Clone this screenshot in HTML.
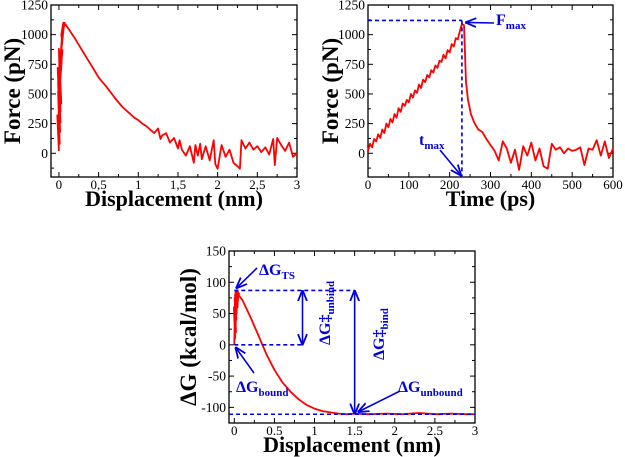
<!DOCTYPE html>
<html><head><meta charset="utf-8"><style>
body{margin:0;background:#fff;}
svg{display:block;font-family:"Liberation Serif",serif;}
</style></head><body>
<svg id="fig" width="625" height="457" viewBox="0 0 625 457" xmlns="http://www.w3.org/2000/svg">
<defs>
<marker id="ah" viewBox="0 0 10 10" refX="9" refY="5" markerWidth="7" markerHeight="7" orient="auto-start-reverse"><path d="M0,1 L10,5 L0,9" fill="none" stroke="#0000e0" stroke-width="1.6"/></marker>
</defs>
</svg>
<script>
// Panel A: force vs displacement
const aX=[0,-0.02,0.01,-0.01,0.02,-0.015,0.015,-0.01,0.03,0,0.02,-0.005,0.035,0.005,0.04,0.01,0.045,0.015,0.05,0.02,0.04,0.03,0.055,0.035,0.06,0.045,0.07,0.05,0.08,0.1,0.2,0.3,0.4,0.5,0.6,0.7,0.8,0.85,0.9,0.95,1.0,1.05,1.1,1.15,1.2,1.25,1.28,1.3,1.35,1.4,1.45,1.5,1.52,1.55,1.6,1.65,1.7,1.72,1.75,1.78,1.8,1.85,1.9,1.95,1.97,2.0,2.05,2.1,2.15,2.2,2.25,2.28,2.3,2.35,2.4,2.45,2.5,2.55,2.6,2.65,2.7,2.72,2.75,2.8,2.85,2.9,2.95,3.0];
const aY=[20,320,80,520,260,720,180,600,420,880,350,650,780,500,980,620,870,700,1080,820,950,1000,1100,900,1060,1010,1100,1050,1090,1070,970,860,750,640,560,470,390,360,330,300,280,250,230,200,170,210,120,150,170,90,130,40,110,30,-20,60,-80,70,-20,80,-50,60,-60,110,-90,-130,70,-30,30,-80,-110,-130,110,40,90,30,60,10,50,-10,120,-100,130,70,20,90,-30,0];
// Panel B: force vs time
const bX=[0,5,10,15,20,25,30,35,40,45,50,55,60,65,70,75,80,85,90,95,100,105,110,115,120,125,130,135,140,145,150,155,160,165,170,175,180,185,190,195,200,205,210,215,220,225,230,235,240,245,252,260,270,280,290,300,310,320,330,340,350,360,370,380,390,400,410,420,430,440,450,460,470,480,490,500,510,520,530,540,550,560,570,580,590,600];
const bY=[20,80,50,120,100,160,130,200,170,250,220,290,260,330,300,380,350,420,400,450,430,500,470,530,510,580,550,620,600,660,640,700,680,740,720,780,770,830,800,870,850,920,900,970,960,1030,1090,1080,600,450,330,260,200,180,120,70,20,-60,100,40,-80,30,-140,60,-20,90,-60,40,-110,-130,80,30,50,0,40,20,30,50,-100,40,30,110,-20,100,-40,40];
// Panel C: free energy
const cX=[0,0.005,0.01,-0.005,0.015,0.005,0.02,0.01,0.03,0.015,0.025,0.02,0.04,0.03,0.035,0.025,0.05,0.04,0.045,0.035,0.06,0.05,0.1,0.2,0.3,0.4,0.5,0.6,0.7,0.8,0.9,1.0,1.1,1.2,1.3,1.4,1.5,1.7,1.9,2.1,2.3,2.5,2.7,2.9,3.0];
const cY=[0,40,10,60,30,75,20,80,50,85,40,70,83,55,86,65,82,60,86,70,82,80,72,45,15,-15,-40,-60,-75,-87,-96,-102,-106,-108,-110,-111,-110,-111,-110,-111,-109,-111,-110,-111,-111];
const aXT=[0,0.5,1,1.5,2,2.5,3], aXL=["0","0,5","1","1,5","2","2,5","3"];
const fYT=[0,250,500,750,1000,1250];
const bXT=[0,100,200,300,400,500,600];
const cXT=[0,0.5,1,1.5,2,2.5,3], cXL=["0","0.5","1","1.5","2","2.5","3"];
const cYT=[-100,-50,0,50,100,150];

const NS="http://www.w3.org/2000/svg", svg=document.getElementById('fig');
function mk(t,a,p){const e=document.createElementNS(NS,t);for(const k in a)e.setAttribute(k,a[k]);(p||svg).appendChild(e);return e;}
function panel(o){
  const g=mk('g',{});
  
  
  const sx=v=>o.L+(v-o.x0)/(o.x1-o.x0)*(o.R-o.L);
  const sy=v=>o.B-(v-o.y0)/(o.y1-o.y0)*(o.B-o.T);
  o.sx=sx;o.sy=sy;
  const fr=mk('rect',{x:o.L,y:o.T,width:o.R-o.L,height:o.B-o.T,fill:'none',stroke:'#000','stroke-width':1.3},g);
  
  
  o.xt.forEach((v,i)=>{const x=sx(v);
    mk('line',{x1:x,x2:x,y1:o.B,y2:o.B-5,stroke:'#000'},g);
    mk('line',{x1:x,x2:x,y1:o.T,y2:o.T+5,stroke:'#000'},g);
    if(i<o.xt.length-1){const xm=sx((v+o.xt[i+1])/2);mk('line',{x1:xm,x2:xm,y1:o.B,y2:o.B-3,stroke:'#000'},g);mk('line',{x1:xm,x2:xm,y1:o.T,y2:o.T+3,stroke:'#000'},g);}
    const t=mk('text',{x:x,y:o.B+12,'text-anchor':'middle','font-size':13},g);t.textContent=o.xl[i];
    
    });
  o.yt.forEach((v,i)=>{const y=sy(v);
    mk('line',{x1:o.L,x2:o.L+5,y1:y,y2:y,stroke:'#000'},g);
    mk('line',{x1:o.R,x2:o.R-5,y1:y,y2:y,stroke:'#000'},g);
    const step=(o.yt[1]-o.yt[0])/2;[v-step].forEach(m=>{if(m>o.y0){const ym=sy(m);mk('line',{x1:o.L,x2:o.L+3,y1:ym,y2:ym,stroke:'#000'},g);mk('line',{x1:o.R,x2:o.R-3,y1:ym,y2:ym,stroke:'#000'},g);}});
    const t=mk('text',{x:o.L-3,y:y+4.5,'text-anchor':'end','font-size':13.5},g);t.textContent=String(v);
    
    });
  const pts=o.X.map((v,i)=>sx(v).toFixed(1)+','+sy(o.Y[i]).toFixed(1)).join(' ');
  const pl=mk('polyline',{points:pts,fill:'none',stroke:'#f00','stroke-width':1.8,'stroke-linejoin':'round'},g);
  
  
  const xt=mk('text',{x:(o.L+o.R)/2,y:o.B+29,'text-anchor':'middle','font-size':22,'font-weight':'bold'},g);xt.textContent=o.xtitle;
  
  
  const yc=(o.T+o.B)/2;
  const yt=mk('text',{x:o.ytx,y:yc,'text-anchor':'middle','font-size':23,'font-weight':'bold',transform:`rotate(-90 ${o.ytx} ${yc})`},g);yt.textContent=o.ytitle;
  
  
  return o;
}
const A=panel({name:'force-displacement-chart',L:51,R:297,T:5,B:177,x0:-0.1,x1:3,y0:-200,y1:1250,xt:aXT,xl:aXL,yt:fYT,X:aX,Y:aY,xtitle:'Displacement (nm)',ytitle:'Force (pN)',ytx:20});
const B=panel({name:'force-time-chart',L:368,R:613,T:5,B:177,x0:0,x1:600,y0:-200,y1:1250,xt:bXT,xl:bXT.map(String),yt:fYT,X:bX,Y:bY,xtitle:'Time (ps)',ytitle:'Force (pN)',ytx:338});
const C=panel({name:'free-energy-chart',L:229,R:475,T:251,B:423,x0:-0.066,x1:3,y0:-125,y1:150,xt:cXT,xl:cXL,yt:cYT,X:cX,Y:cY,xtitle:'Displacement (nm)',ytitle:'ΔG (kcal/mol)',ytx:196});

function dash(x1,y1,x2,y2,n){const l=mk('line',{x1,y1,x2,y2,stroke:'#0000e0','stroke-width':1.6,'stroke-dasharray':'4,3'});}
function arrow(x1,y1,x2,y2,n,both){const a={x1,y1,x2,y2,stroke:'#0000e0','stroke-width':1.6,'marker-end':'url(#ah)'};if(both)a['marker-start']='url(#ah)';const l=mk('line',a);}
function lab(x,y,main,sub,n,rot){const t=mk('text',{x,y,fill:'#0000e0','font-size':16,'font-weight':'bold'});if(rot)t.setAttribute('transform',`rotate(-90 ${x} ${y})`);t.innerHTML=main+'<tspan font-size="11" dy="4">'+sub+'</tspan>';}
// Panel B annotations
dash(B.sx(0),B.sy(1120),B.sx(230),B.sy(1120),'fmax-line');
dash(B.sx(230),B.sy(1120),B.sx(230),B.B,'tmax-line');
arrow(494,23,B.sx(233)+3,B.sy(1120)+2,'fmax-arrow');
lab(496,25,'F','max','fmax-label');
arrow(440,150,B.sx(227),B.B-2,'tmax-arrow');
lab(419,145,'t','max','tmax-label');
// Panel C annotations
dash(C.sx(0),C.sy(87),C.sx(1.5),C.sy(87),'ts-line');
dash(C.sx(0),C.sy(0),C.sx(0.85),C.sy(0),'bound-line');
dash(C.sx(-0.066),C.sy(-111),C.R,C.sy(-111),'unbound-line');
arrow(C.sx(0.85),C.sy(1),C.sx(0.85),C.sy(86),'unbind-arrow',true);
arrow(C.sx(1.5),C.sy(86),C.sx(1.5),C.sy(-110),'bind-arrow',true);
arrow(257,268,C.sx(0.03),C.sy(88)-2,'ts-arrow');
lab(259,275,'ΔG','TS','dg-ts-label');
arrow(254,373,C.sx(0.02),C.sy(0)+3,'bound-arrow');
lab(236,392,'ΔG','bound','dg-bound-label');
arrow(400,391,C.sx(1.55),C.sy(-110)-2,'unbound-arrow');
lab(398,392,'ΔG','unbound','dg-unbound-label');
lab(330,345,'ΔG‡','unbind','dg-unbind-label',true);
lab(384,360,'ΔG‡','bind','dg-bind-label',true);
</script>
</body></html>
